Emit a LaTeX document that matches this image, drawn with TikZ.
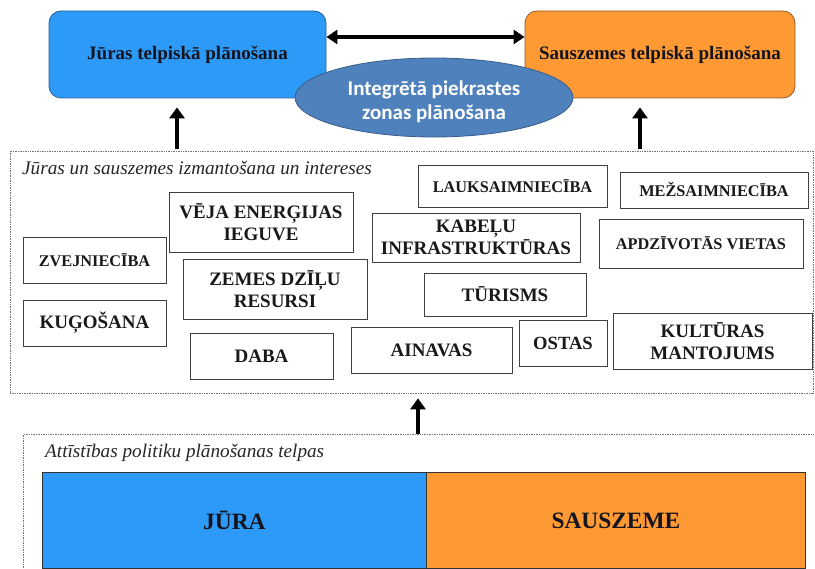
\documentclass[tikz,border=0pt]{standalone}
\usepackage{fontspec}
\setmainfont{Liberation Serif}
\newfontfamily\carl{Carlito}
\usetikzlibrary{arrows.meta,shapes.geometric}
\definecolor{seablue}{RGB}{44,154,246}
\definecolor{seaedge}{RGB}{40,95,160}
\definecolor{landorange}{RGB}{255,153,51}
\definecolor{landedge}{RGB}{150,90,40}
\definecolor{ellblue}{RGB}{79,129,189}
\definecolor{elledge}{RGB}{56,93,138}
\definecolor{txtdark}{RGB}{20,20,30}
\tikzset{
  topbox/.style={rounded corners=12pt, line width=0.8pt, inner sep=0pt, font=\bfseries\fontsize{19}{22}\selectfont, text=txtdark},
  ibox/.style={draw=black!75, line width=0.9pt, fill=white, inner sep=0pt, align=center, text=black!90, font=\bfseries},
  small/.style={font=\bfseries\fontsize{16.3}{18}\selectfont},
  large/.style={font=\bfseries\fontsize{19}{22.5}\selectfont},
  dotbox/.style={draw=black!55, densely dotted, line width=0.7pt},
  bigarrow/.style={line width=3.6pt, -{Triangle[length=11pt,width=15pt]}},
  dblarrow/.style={line width=3.6pt, {Triangle[length=11pt,width=14pt]}-{Triangle[length=11pt,width=14pt]}},
  lbl/.style={font=\itshape\fontsize{19.2}{22}\selectfont, anchor=base west, inner sep=0pt, text=black!85},
}
\begin{document}
\begin{tikzpicture}[x=1pt,y=-1pt]
\useasboundingbox (0,0) rectangle (815,569);
\clip (0,0) rectangle (815,569);
\fill[white] (0,0) rectangle (815,569);

% top boxes
\node[topbox, draw=seaedge, fill=seablue, minimum width=277pt, minimum height=87pt] (sea) at (187.5,54.5) {Jūras telpiskā plānošana};
\node[topbox, draw=landedge, fill=landorange, minimum width=270pt, minimum height=87pt] (land) at (660,54.5) {Sauszemes telpiskā plānošana};
\draw[dblarrow] ([yshift=17.5pt]sea.east) -- ([yshift=17.5pt]land.west);
\node[ellipse, draw=elledge, line width=0.8pt, fill=ellblue, minimum width=278pt, minimum height=79pt, inner sep=0pt, text=white] (icz) at (434,97.5) {};
\node[align=center, text=white, inner sep=0pt, font=\carl\bfseries\fontsize{21}{24}\selectfont] (icztxt) at ([yshift=-4.5pt]icz.center) {Integrētā piekrastes\\zonas plānošana};

% interests box
\node[dotbox, minimum width=803pt, minimum height=242pt, inner sep=0pt] (int) at (411.5,272) {};
\node[lbl] (intlbl) at (22,175) {Jūras un sauszemes izmantošana un intereses};

\coordinate (a1) at (177,149);
\coordinate (a2) at (640,149);
\draw[bigarrow, shorten >=9pt] (a1) -- (a1 |- sea.south);
\draw[bigarrow, shorten >=9pt] (a2) -- (a2 |- land.south);

\node[ibox, small, minimum width=143pt, minimum height=46pt] (zv) at (94.5,260) {ZVEJNIECĪBA};
\node[ibox, large, minimum width=143pt, minimum height=46pt] (ku) at (94.5,323) {KUĢOŠANA};
\node[ibox, large, minimum width=184pt, minimum height=60pt] (ve) at (261,222) {VĒJA ENERĢIJAS\\IEGUVE};
\node[ibox, large, minimum width=184pt, minimum height=60pt] (ze) at (275,289) {ZEMES DZĪĻU\\RESURSI};
\node[ibox, large, minimum width=143pt, minimum height=46pt] (da) at (261.5,356) {DABA};
\node[ibox, small, minimum width=189pt, minimum height=42pt] (la) at (512.5,186) {LAUKSAIMNIECĪBA};
\node[ibox, small, minimum width=188pt, minimum height=36pt] (me) at (714,190) {MEŽSAIMNIECĪBA};
\node[ibox, large, minimum width=208pt, minimum height=49pt] (ka) at (476,237.5) {KABEĻU\\INFRASTRUKTŪRAS};
\node[ibox, small, minimum width=204pt, minimum height=49pt] (ap) at (701,243.5) {APDZĪVOTĀS VIETAS};
\node[ibox, large, minimum width=162pt, minimum height=43pt] (tu) at (505,294.5) {TŪRISMS};
\node[ibox, large, minimum width=161pt, minimum height=46pt] (ai) at (431.5,350) {AINAVAS};
\node[ibox, font=\bfseries\fontsize{18.6}{21}\selectfont, minimum width=88pt, minimum height=46pt] (os) at (563,343) {OSTAS};
\node[ibox, large, minimum width=199pt, minimum height=56pt] (ku2) at (712.5,341) {KULTŪRAS\\MANTOJUMS};

% policy space
\node[dotbox, minimum width=820pt, minimum height=160pt, inner sep=0pt, anchor=north west] (pol) at (23,434) {};
\node[lbl] (pollbl) at (45,458) {Attīstības politiku plānošanas telpas};
\coordinate (a3) at (418,434);
\draw[bigarrow, shorten >=5pt] (a3) -- (a3 |- int.south);

\node[draw=black!80, line width=0.8pt, fill=seablue, minimum width=384pt, minimum height=96pt, inner sep=0pt, anchor=north west, font=\bfseries\fontsize{23.4}{26}\selectfont, text=txtdark] (jura) at (42,472) {JŪRA};
\node[draw=black!80, line width=0.8pt, fill=landorange, minimum width=379pt, minimum height=96pt, inner sep=0pt, anchor=north west, font=\bfseries\fontsize{23.4}{26}\selectfont, text=txtdark] (saus) at (426,472) {SAUSZEME};
\end{tikzpicture}
\end{document}
